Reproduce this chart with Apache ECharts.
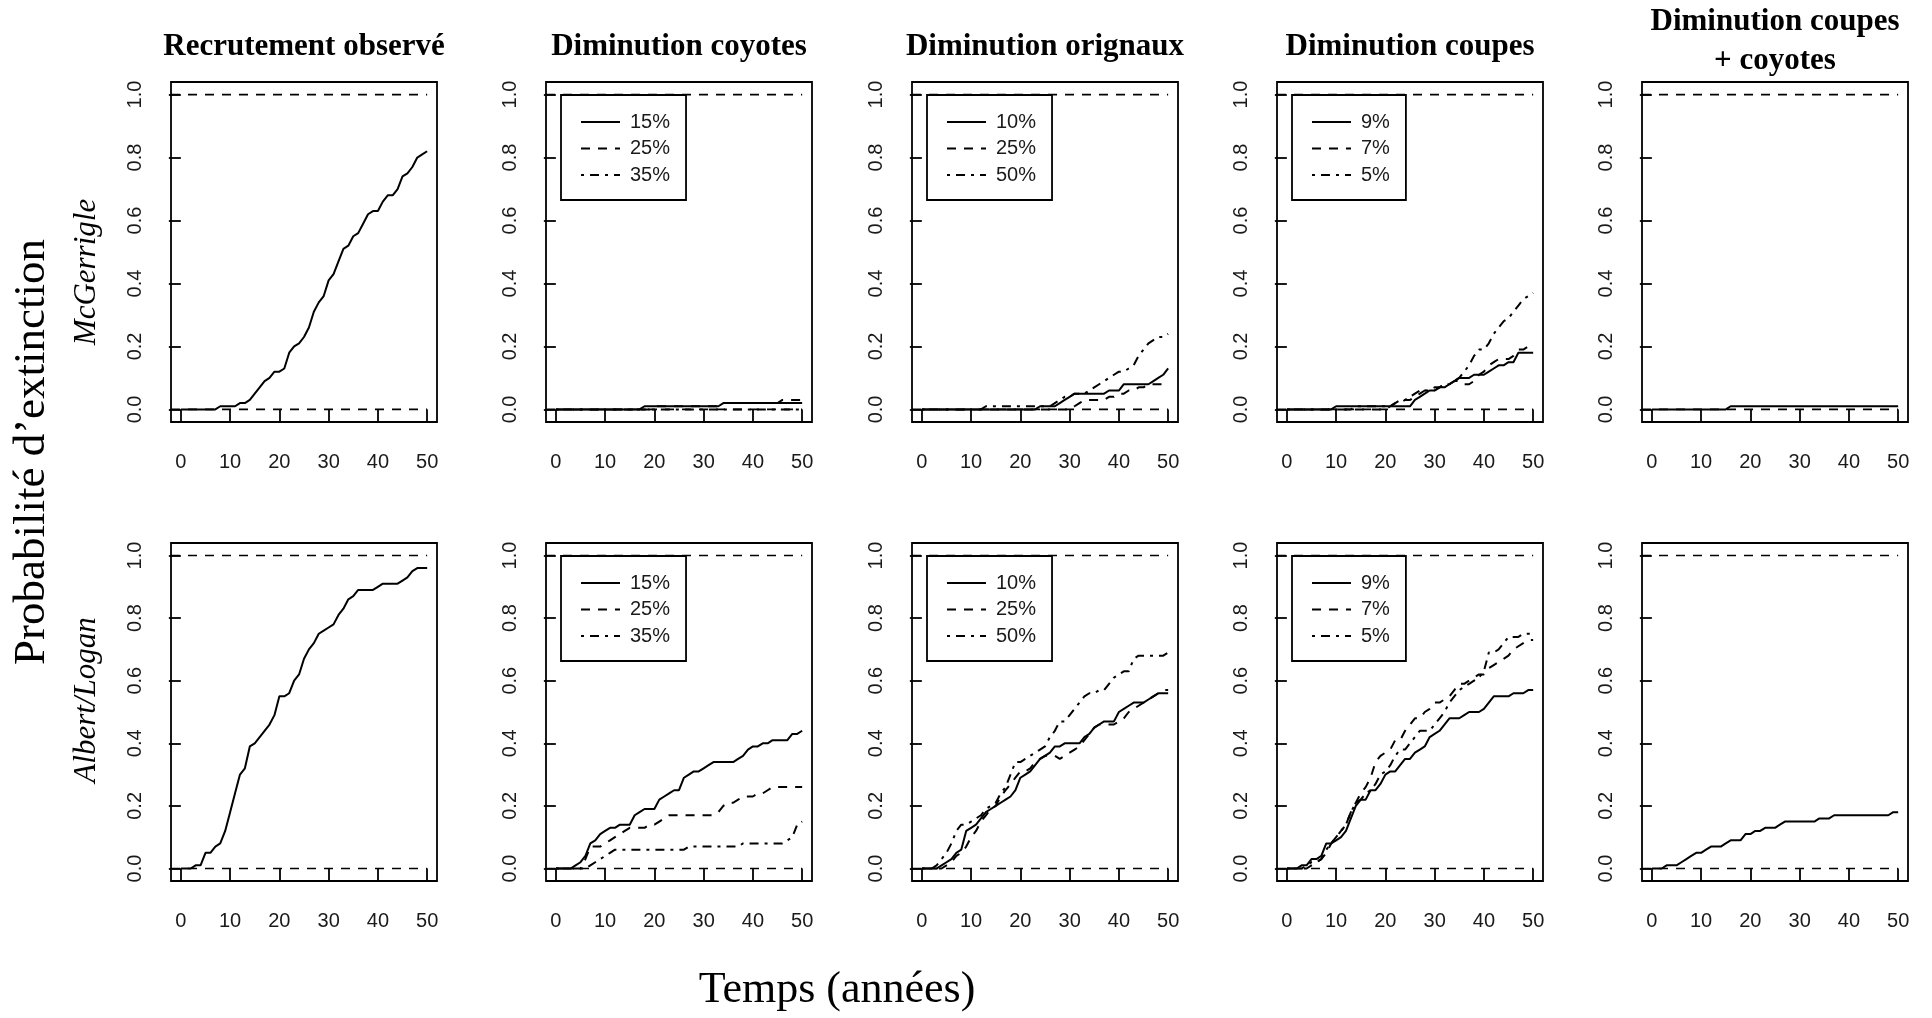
<!DOCTYPE html>
<html>
<head>
<meta charset="utf-8">
<script src="https://cdn.jsdelivr.net/npm/echarts@6/dist/echarts.min.js"></script>
<style>
  html, body { margin: 0; padding: 0; background: #fff; }
  #chart { width: 1932px; height: 1018px; }
</style>
</head>
<body>
<div id="chart"></div>
<script>
// ---------------- DATA ----------------
const years = [0,1,2,3,4,5,6,7,8,9,10,11,12,13,14,15,16,17,18,19,20,21,22,23,24,25,26,27,28,29,30,31,32,33,34,35,36,37,38,39,40,41,42,43,44,45,46,47,48,49,50];
const xTicks = [0, 10, 20, 30, 40, 50];
const yTicks = [0, 0.2, 0.4, 0.6, 0.8, 1.0];
const refLevels = [0, 1];
const refSpan = [-2, 50];

const colTitles = ['Recrutement observé', 'Diminution coyotes', 'Diminution orignaux', 'Diminution coupes', 'Diminution coupes\n+ coyotes'];
const rowNames = ['McGerrigle', 'Albert/Logan'];
const yTitle = 'Probabilité d’extinction';
const xTitle = 'Temps (années)';

const legendCoyotes = ['15%', '25%', '35%'];
const legendOrignaux = ['10%', '25%', '50%'];
const legendCoupes = ['9%', '7%', '5%'];

// McGerrigle (top row)
const mcgObs = [0,0,0,0,0,0,0,0,0.01,0.01,0.01,0.01,0.02,0.02,0.03,0.05,0.07,0.09,0.10,0.12,0.12,0.13,0.18,0.20,0.21,0.23,0.26,0.31,0.34,0.36,0.41,0.43,0.47,0.51,0.52,0.55,0.56,0.59,0.62,0.63,0.63,0.66,0.68,0.68,0.70,0.74,0.75,0.77,0.80,0.81,0.82];
const mcgCoy15 = [0,0,0,0,0,0,0,0,0,0,0,0,0,0,0,0,0,0,0.01,0.01,0.01,0.01,0.01,0.01,0.01,0.01,0.01,0.01,0.01,0.01,0.01,0.01,0.01,0.01,0.02,0.02,0.02,0.02,0.02,0.02,0.02,0.02,0.02,0.02,0.02,0.02,0.02,0.02,0.02,0.02,0.02];
const mcgCoy25 = [0,0,0,0,0,0,0,0,0,0,0,0,0,0,0,0,0,0,0,0,0.01,0.01,0.01,0.01,0.01,0.01,0.01,0.01,0.01,0.01,0.01,0.01,0.01,0.01,0.02,0.02,0.02,0.02,0.02,0.02,0.02,0.02,0.02,0.02,0.02,0.02,0.03,0.03,0.03,0.03,0.03];
const mcgCoy35 = [0,0,0,0,0,0,0,0,0,0,0,0,0,0,0,0,0,0,0,0,0,0,0,0,0,0,0,0,0,0,0,0,0,0,0,0,0,0,0,0,0,0,0,0,0,0,0,0,0,0,0];
const mcgOri10 = [0,0,0,0,0,0,0,0,0,0,0,0,0,0,0,0,0,0,0,0,0,0,0,0,0.01,0.01,0.01,0.01,0.02,0.03,0.04,0.05,0.05,0.05,0.05,0.05,0.05,0.05,0.06,0.06,0.06,0.08,0.08,0.08,0.08,0.08,0.08,0.09,0.10,0.11,0.13];
const mcgOri25 = [0,0,0,0,0,0,0,0,0,0,0,0,0,0,0,0,0,0,0,0,0,0,0,0,0,0,0,0,0,0,0,0.01,0.02,0.03,0.03,0.03,0.03,0.03,0.04,0.04,0.05,0.05,0.06,0.06,0.07,0.07,0.08,0.08,0.08,0.08,0.08];
const mcgOri50 = [0,0,0,0,0,0,0,0,0,0,0,0,0,0.01,0.01,0.01,0.01,0.01,0.01,0.01,0.01,0.01,0.01,0.01,0.01,0.01,0.01,0.02,0.03,0.04,0.04,0.05,0.05,0.05,0.06,0.07,0.08,0.09,0.10,0.11,0.12,0.12,0.13,0.14,0.17,0.19,0.21,0.22,0.23,0.23,0.24];
const mcgCut9 = [0,0,0,0,0,0,0,0,0,0,0.01,0.01,0.01,0.01,0.01,0.01,0.01,0.01,0.01,0.01,0.01,0.01,0.01,0.01,0.01,0.01,0.03,0.04,0.05,0.06,0.06,0.07,0.07,0.08,0.09,0.10,0.10,0.10,0.11,0.11,0.11,0.12,0.13,0.14,0.14,0.15,0.15,0.18,0.18,0.18,0.18];
const mcgCut7 = [0,0,0,0,0,0,0,0,0,0,0,0,0,0,0,0,0,0,0,0,0,0.01,0.02,0.02,0.03,0.03,0.04,0.05,0.06,0.06,0.06,0.07,0.08,0.08,0.09,0.09,0.08,0.08,0.09,0.11,0.12,0.14,0.15,0.16,0.16,0.16,0.17,0.19,0.19,0.20,0.21];
const mcgCut5 = [0,0,0,0,0,0,0,0,0,0,0,0,0,0,0.01,0.01,0.01,0.01,0.01,0.01,0.01,0.01,0.02,0.03,0.03,0.04,0.05,0.06,0.06,0.06,0.07,0.07,0.08,0.08,0.09,0.10,0.12,0.14,0.17,0.19,0.19,0.21,0.24,0.26,0.28,0.29,0.31,0.33,0.35,0.36,0.37];
const mcgCombo = [0,0,0,0,0,0,0,0,0,0,0,0,0,0,0,0,0.01,0.01,0.01,0.01,0.01,0.01,0.01,0.01,0.01,0.01,0.01,0.01,0.01,0.01,0.01,0.01,0.01,0.01,0.01,0.01,0.01,0.01,0.01,0.01,0.01,0.01,0.01,0.01,0.01,0.01,0.01,0.01,0.01,0.01,0.01];

// Albert/Logan (bottom row)
const alObs = [0,0,0,0.01,0.01,0.05,0.05,0.07,0.08,0.12,0.18,0.24,0.30,0.32,0.39,0.40,0.42,0.44,0.46,0.49,0.55,0.55,0.56,0.60,0.62,0.67,0.70,0.72,0.75,0.76,0.77,0.78,0.81,0.83,0.86,0.87,0.89,0.89,0.89,0.89,0.90,0.91,0.91,0.91,0.91,0.92,0.93,0.95,0.96,0.96,0.96];
const alCoy15 = [0,0,0,0,0.01,0.02,0.04,0.08,0.09,0.11,0.12,0.13,0.13,0.14,0.14,0.14,0.17,0.18,0.19,0.19,0.19,0.22,0.23,0.24,0.25,0.25,0.29,0.30,0.31,0.31,0.32,0.33,0.34,0.34,0.34,0.34,0.34,0.35,0.36,0.38,0.39,0.39,0.40,0.40,0.41,0.41,0.41,0.41,0.43,0.43,0.44];
const alCoy25 = [0,0,0,0,0,0,0.03,0.07,0.07,0.07,0.08,0.09,0.10,0.11,0.12,0.13,0.13,0.13,0.13,0.14,0.14,0.15,0.16,0.17,0.17,0.17,0.17,0.17,0.17,0.17,0.17,0.17,0.17,0.18,0.20,0.21,0.21,0.22,0.23,0.23,0.23,0.24,0.24,0.25,0.26,0.26,0.26,0.26,0.26,0.26,0.26];
const alCoy35 = [0,0,0,0,0,0,0,0.01,0.02,0.03,0.04,0.05,0.06,0.06,0.06,0.06,0.06,0.06,0.06,0.06,0.06,0.06,0.06,0.06,0.06,0.06,0.06,0.07,0.07,0.07,0.07,0.07,0.07,0.07,0.07,0.07,0.07,0.07,0.08,0.08,0.08,0.08,0.08,0.08,0.08,0.08,0.08,0.09,0.10,0.14,0.15];
const alOri10 = [0,0,0,0,0.01,0.02,0.03,0.05,0.06,0.12,0.13,0.14,0.16,0.18,0.19,0.20,0.21,0.22,0.23,0.25,0.29,0.30,0.31,0.33,0.35,0.36,0.37,0.39,0.39,0.40,0.40,0.40,0.40,0.42,0.43,0.45,0.46,0.47,0.47,0.47,0.50,0.51,0.52,0.53,0.53,0.53,0.54,0.55,0.56,0.56,0.56];
const alOri25 = [0,0,0,0,0,0.01,0.02,0.04,0.05,0.07,0.10,0.12,0.15,0.17,0.19,0.20,0.23,0.25,0.27,0.29,0.31,0.31,0.32,0.34,0.35,0.36,0.36,0.36,0.35,0.36,0.37,0.38,0.39,0.41,0.43,0.45,0.46,0.46,0.46,0.46,0.47,0.48,0.50,0.51,0.52,0.53,0.54,0.55,0.56,0.57,0.57];
const alOri50 = [0,0,0,0.01,0.03,0.05,0.08,0.12,0.14,0.14,0.15,0.16,0.17,0.19,0.20,0.21,0.24,0.26,0.30,0.34,0.34,0.35,0.36,0.37,0.38,0.39,0.42,0.44,0.47,0.47,0.49,0.51,0.53,0.55,0.56,0.56,0.57,0.57,0.59,0.61,0.62,0.63,0.63,0.67,0.68,0.68,0.68,0.68,0.68,0.68,0.69];
const alCut9 = [0,0,0,0.01,0.01,0.03,0.03,0.04,0.08,0.08,0.09,0.10,0.12,0.16,0.20,0.22,0.22,0.25,0.25,0.27,0.30,0.31,0.31,0.33,0.35,0.35,0.37,0.38,0.39,0.42,0.43,0.44,0.46,0.48,0.48,0.48,0.49,0.50,0.50,0.50,0.51,0.53,0.55,0.55,0.55,0.55,0.56,0.56,0.56,0.57,0.57];
const alCut7 = [0,0,0,0,0,0.01,0.02,0.03,0.05,0.08,0.10,0.12,0.14,0.18,0.21,0.24,0.26,0.29,0.34,0.36,0.37,0.38,0.41,0.41,0.44,0.46,0.48,0.48,0.50,0.51,0.53,0.53,0.54,0.55,0.57,0.59,0.59,0.60,0.61,0.62,0.62,0.64,0.65,0.66,0.67,0.68,0.70,0.71,0.72,0.73,0.73];
const alCut5 = [0,0,0,0,0.01,0.02,0.02,0.03,0.06,0.08,0.10,0.12,0.14,0.18,0.21,0.22,0.24,0.25,0.27,0.30,0.31,0.33,0.36,0.38,0.38,0.40,0.42,0.44,0.44,0.44,0.46,0.48,0.50,0.53,0.55,0.57,0.58,0.59,0.60,0.61,0.63,0.69,0.69,0.70,0.72,0.74,0.74,0.74,0.75,0.75,0.75];
const alCombo = [0,0,0,0.01,0.01,0.01,0.02,0.03,0.04,0.05,0.05,0.06,0.07,0.07,0.07,0.08,0.09,0.09,0.09,0.11,0.11,0.12,0.12,0.13,0.13,0.13,0.14,0.15,0.15,0.15,0.15,0.15,0.15,0.15,0.16,0.16,0.16,0.17,0.17,0.17,0.17,0.17,0.17,0.17,0.17,0.17,0.17,0.17,0.17,0.18,0.18];

// ---------------- LAYOUT / STYLE ----------------
const colLeft = [171, 546, 912, 1277, 1642];
const rowTop = [82, 543];
const rowH = [340, 338];
const gW = 266;
const SOLID = 'solid';
const DASH = [9, 8];
const DASHDOT = [3, 6, 9, 6];
const STYLES = [SOLID, DASH, DASHDOT];

const panels = [
  // row 0
  { names: null, series: [mcgObs] },
  { names: legendCoyotes, series: [mcgCoy15, mcgCoy25, mcgCoy35] },
  { names: legendOrignaux, series: [mcgOri10, mcgOri25, mcgOri50] },
  { names: legendCoupes, series: [mcgCut9, mcgCut7, mcgCut5] },
  { names: null, series: [mcgCombo] },
  // row 1
  { names: null, series: [alObs] },
  { names: legendCoyotes, series: [alCoy15, alCoy25, alCoy35] },
  { names: legendOrignaux, series: [alOri10, alOri25, alOri50] },
  { names: legendCoupes, series: [alCut9, alCut7, alCut5] },
  { names: null, series: [alCombo] }
];

const grid = [], xAxis = [], yAxis = [], series = [], legend = [], graphic = [];
const tickFont = { fontSize: 20, fontFamily: '"Liberation Sans", Arial, sans-serif', color: '#1a1a1a' };

panels.forEach((p, i) => {
  const r = Math.floor(i / 5), c = i % 5;
  grid.push({ left: colLeft[c], top: rowTop[r], width: gW, height: rowH[r], show: true,
              borderColor: '#000', borderWidth: 1.8, backgroundColor: 'transparent' });
  xAxis.push({ gridIndex: i, type: 'value', min: -2, max: 52,
    axisLine: { show: false }, splitLine: { show: false },
    axisTick: { show: true, length: 12, lineStyle: { color: '#000', width: 1.8 }, customValues: xTicks },
    axisLabel: Object.assign({ customValues: xTicks, margin: 30 }, tickFont) });
  yAxis.push({ gridIndex: i, type: 'value', min: -0.04, max: 1.04,
    axisLine: { show: false }, splitLine: { show: false },
    axisTick: { show: true, length: 12, lineStyle: { color: '#000', width: 1.8 }, customValues: yTicks },
    axisLabel: Object.assign({ customValues: yTicks, margin: 26, rotate: 90,
      formatter: v => Number(v).toFixed(1) }, tickFont) });
  refLevels.forEach(lv => {
    series.push({ type: 'line', xAxisIndex: i, yAxisIndex: i, silent: true, symbol: 'none',
      animation: false, z: 1, color: '#000',
      data: refSpan.map(x => [x, lv]),
      lineStyle: { color: '#000', width: 1.6, type: DASH } });
  });
  p.series.forEach((vals, k) => {
    series.push({ type: 'line', name: p.names ? p.names[k] : undefined,
      xAxisIndex: i, yAxisIndex: i, symbol: 'none', showSymbol: false, animation: false, z: 3,
      color: '#000', itemStyle: { color: '#000' },
      data: years.map((y, j) => [y, vals[j]]),
      lineStyle: { color: '#000', width: 2, type: STYLES[k] } });
  });
  if (p.names) {
    legend.push({ data: p.names, orient: 'vertical', left: colLeft[c] + 15, top: rowTop[r] + 13,
      itemWidth: 39, itemHeight: 14, itemGap: 6.5, padding: [17, 16, 15, 19],
      itemStyle: { opacity: 0 },
      borderColor: '#000', borderWidth: 1.8, backgroundColor: 'transparent', selectedMode: false,
      textStyle: { fontSize: 20, fontFamily: '"Liberation Sans", Arial, sans-serif', color: '#1a1a1a',
                   padding: [0, 0, 0, 5] } });
  }
});

// column titles
colTitles.forEach((t, c) => {
  const twoLines = t.indexOf('\n') >= 0;
  graphic.push({ type: 'text', x: colLeft[c] + gW / 2, y: twoLines ? 41 : 47, silent: true,
    style: { text: t, fill: '#000', fontSize: 31, fontWeight: 'bold',
             fontFamily: '"Liberation Serif", "Times New Roman", serif',
             lineHeight: 39, align: 'center', verticalAlign: 'middle' } });
});
// row names
const rowLabelY = [272, 700];
rowNames.forEach((t, r) => {
  graphic.push({ type: 'text', x: 87, y: rowLabelY[r], rotation: Math.PI / 2, silent: true,
    style: { text: t, fill: '#000', fontSize: 31, fontStyle: 'italic',
             fontFamily: '"Liberation Serif", "Times New Roman", serif',
             align: 'center', verticalAlign: 'middle' } });
});
graphic.push({ type: 'text', x: 32, y: 452, rotation: Math.PI / 2, silent: true,
  style: { text: yTitle, fill: '#000', fontSize: 45,
           fontFamily: '"Liberation Serif", "Times New Roman", serif',
           align: 'center', verticalAlign: 'middle' } });
graphic.push({ type: 'text', x: 837, y: 990, silent: true,
  style: { text: xTitle, fill: '#000', fontSize: 44,
           fontFamily: '"Liberation Serif", "Times New Roman", serif',
           align: 'center', verticalAlign: 'middle' } });

const chart = echarts.init(document.getElementById('chart'), null, { renderer: 'canvas' });
chart.setOption({ animation: false, backgroundColor: '#fff', grid, xAxis, yAxis, series, legend, graphic });
</script>
</body>
</html>
